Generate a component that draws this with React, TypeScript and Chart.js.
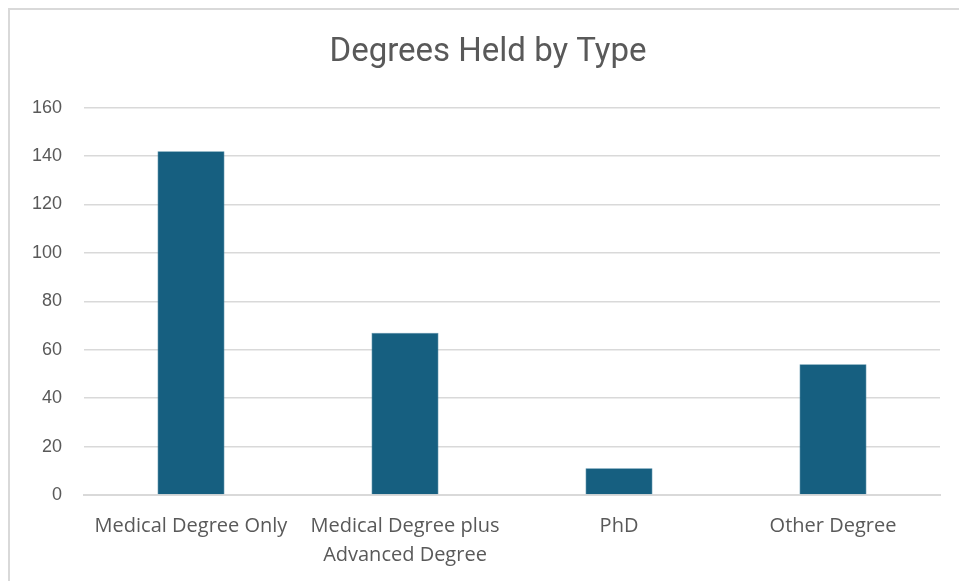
import React, { useEffect, useRef } from "react";
import { Chart, registerables } from "chart.js";

Chart.register(...registerables);

const categories: (string | string[])[] = [
  "Medical Degree Only",
  ["Medical Degree plus", "Advanced Degree"],
  "PhD",
  "Other Degree",
];
const counts = [142, 67, 11, 54];
const yTicks = [0, 20, 40, 60, 80, 100, 120, 140, 160];
const titleText = "Degrees Held by Type";

export default function App() {
  const ref = useRef<HTMLCanvasElement | null>(null);

  useEffect(() => {
    document.body.style.overflow = "hidden";
    const ctx = ref.current;
    if (!ctx) return;
    const chart = new Chart(ctx, {
      type: "bar",
      data: {
        labels: categories,
        datasets: [
          {
            data: counts,
            backgroundColor: "#165f80",
            borderColor: "#3f7f9c",
            borderWidth: 0.6,
            barPercentage: 1,
            categoryPercentage: 0.313,
            yAxisID: "y",
          },
        ],
      },
      options: {
        animation: false,
        responsive: false,
        devicePixelRatio: 1,
        layout: { padding: { left: 7, right: 0, top: 0, bottom: 0 } },
        plugins: {
          legend: { display: false },
          tooltip: { enabled: false },
          title: {
            display: true,
            text: titleText,
            color: "#595959",
            font: { family: "'Roboto', sans-serif", size: 33, weight: "normal", lineHeight: 1.2 },
            padding: { top: 23, bottom: 35 },
          },
        },
        scales: {
          x: {
            grid: { display: false, drawTicks: false },
            border: { display: true, color: "#d9d9d9", width: 2 },
            ticks: {
              color: "#595959",
              font: { family: "'Open Sans', sans-serif", size: 20, lineHeight: 1.45 },
              padding: 17,
              maxRotation: 0,
              autoSkip: false,
            },
            afterFit: (s: any) => {
              s.height = 86;
            },
          },
          y: {
            min: 0,
            max: 160,
            afterBuildTicks: (s: any) => {
              s.ticks = yTicks.map((v) => ({ value: v }));
            },
            grid: { color: "#d9d9d9", lineWidth: 1.5, drawTicks: false },
            border: { display: false },
            ticks: {
              color: "#595959",
              font: { family: "'Liberation Sans', Arial, sans-serif", size: 18 },
              padding: 22,
            },
            afterFit: (s: any) => {
              s.width = 67;
            },
          },
          yRight: {
            type: "linear",
            position: "right",
            display: true,
            grid: { display: false, drawTicks: false },
            border: { display: false },
            ticks: { display: false },
            afterFit: (s: any) => {
              s.width = 19;
            },
          },
        },
      },
    });
    return () => chart.destroy();
  }, []);

  return (
    <div
      style={{
        position: "fixed",
        left: 8,
        top: 8,
        width: 949,
        height: 571,
        borderTop: "2px solid #d9d9d9",
        borderLeft: "2px solid #d9d9d9",
        background: "#fff",
        overflow: "hidden",
      }}
    >
      <canvas ref={ref} width={949} height={571} style={{ display: "block" }} />
    </div>
  );
}
